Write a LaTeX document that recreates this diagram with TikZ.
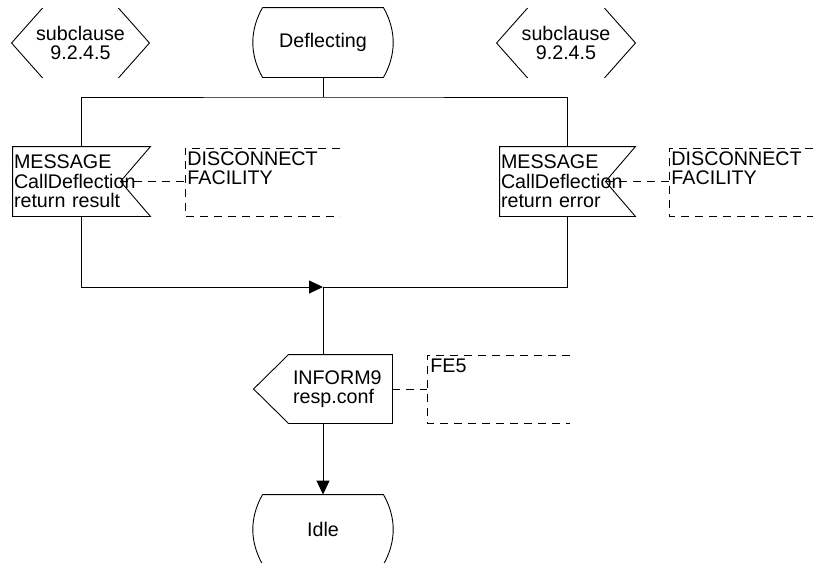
\documentclass[tikz,border=0pt]{standalone}
\usepackage{fontspec}
\setmainfont{Liberation Sans}
\usetikzlibrary{arrows.meta}
\usetikzlibrary{calc}

\begin{document}
\begin{tikzpicture}[x=1pt, y=-1pt, line width=0.9pt,
  txt/.style={inner sep=0pt, font=\fontsize{19.7}{19.5}\selectfont},
  sdlbox/.style={txt, minimum height=69pt},
  comment/.style={dash pattern=on 8pt off 6pt},
  flow/.style={-{Triangle[length=14pt,width=13pt]}}]

\useasboundingbox (0,0) rectangle (813,562);

\pgfmathsetmacro{\bulge}{13};
\pgfmathsetmacro{\chev}{31};
\pgfmathsetmacro{\notch}{30};
\pgfmathsetmacro{\point}{35};

% connectors
\node[sdlbox, minimum width=137pt, align=center] (sub1) at (80.5,43) {subclause\\9.2.4.5};
\node[sdlbox, minimum width=138pt, align=center] (sub2) at (566,43) {subclause\\9.2.4.5};
\draw ([xshift=\chev]sub1.north west) -- (sub1.west) -- ([xshift=\chev]sub1.south west);
\draw ([xshift=-\chev]sub1.north east) -- (sub1.east) -- ([xshift=-\chev]sub1.south east);
\draw ([xshift=\chev]sub2.north west) -- (sub2.west) -- ([xshift=\chev]sub2.south west);
\draw ([xshift=-\chev]sub2.north east) -- (sub2.east) -- ([xshift=-\chev]sub2.south east);

% states
\node[sdlbox, minimum width=120pt] (defl) at (323,42.5) {Deflecting};
\draw (defl.north west) -- (defl.north east)
  .. controls +(\bulge,23) and +(\bulge,-23) .. (defl.south east) -- (defl.south west)
  .. controls +(-\bulge,-23) and +(-\bulge,23) .. (defl.north west);
\node[sdlbox, minimum width=120pt] (idle) at (323,529.5) {Idle};
\draw (idle.north west) -- (idle.north east)
  .. controls +(\bulge,23) and +(\bulge,-23) .. (idle.south east) -- (idle.south west)
  .. controls +(-\bulge,-23) and +(-\bulge,23) .. (idle.north west);

% input signals
\node[sdlbox, text width=135pt, inner xsep=1pt, align=left] (in1) at (81.5,181.5)
  {MESSAGE\\CallDeflection\\return result};
\node[sdlbox, text width=133pt, inner xsep=1pt, align=left] (in2) at (567.5,181.5)
  {MESSAGE\\CallDeflection\\return error};
\coordinate (in1n) at ([xshift=-\notch]in1.east);
\coordinate (in2n) at ([xshift=-\notch]in2.east);
\draw (in1.north west) -- (in1.north east) -- (in1n) -- (in1.south east) -- (in1.south west) -- cycle;
\draw (in2.north west) -- (in2.north east) -- (in2n) -- (in2.south east) -- (in2.south west) -- cycle;

% output signal
\node[sdlbox, minimum height=68pt, text width=95pt, inner xsep=4pt, align=left] (out) at (340.5,389)
  {INFORM9\\resp.conf};
\coordinate (outtip) at ([xshift=-\point]out.west);
\draw (out.north west) -- (out.north east) -- (out.south east) -- (out.south west) -- (outtip) -- cycle;

% comments
\coordinate (c1) at (185,181.5);
\coordinate (c2) at (669,181.5);
\coordinate (c3) at (427,389);
\draw[comment] (340,148) -- (c1 |- 0,148) -- (c1 |- 0,216) -- (340,216);
\draw[comment] (813,148) -- (c2 |- 0,148) -- (c2 |- 0,216) -- (813,216);
\draw[comment] (570,355) -- (c3 |- 0,355) -- (c3 |- 0,423) -- (570,423);
\node[txt, anchor=north west, align=left] (t1) at (187,151) {DISCONNECT\\FACILITY};
\node[txt, anchor=north west, align=left] (t2) at (671,151) {DISCONNECT\\FACILITY};
\node[txt, anchor=north west] (t3) at (430,358) {FE5};
\draw[comment] (in1n) -- (c1);
\draw[comment] (in2n) -- (c2);
\draw[comment] (out.east) -- (c3);

% flow lines
\coordinate (split) at (323,97);
\coordinate (merge) at (323,287);
\draw (defl.south) -- (split);
\draw (in1.north) |- (split) -| (in2.north);
\draw[flow] (in1.south) |- (merge);
\draw (in2.south) |- (merge);
\draw (merge) -- (merge |- out.north);
\draw[flow] (merge |- out.south) -- (idle.north);

\end{tikzpicture}
\end{document}
